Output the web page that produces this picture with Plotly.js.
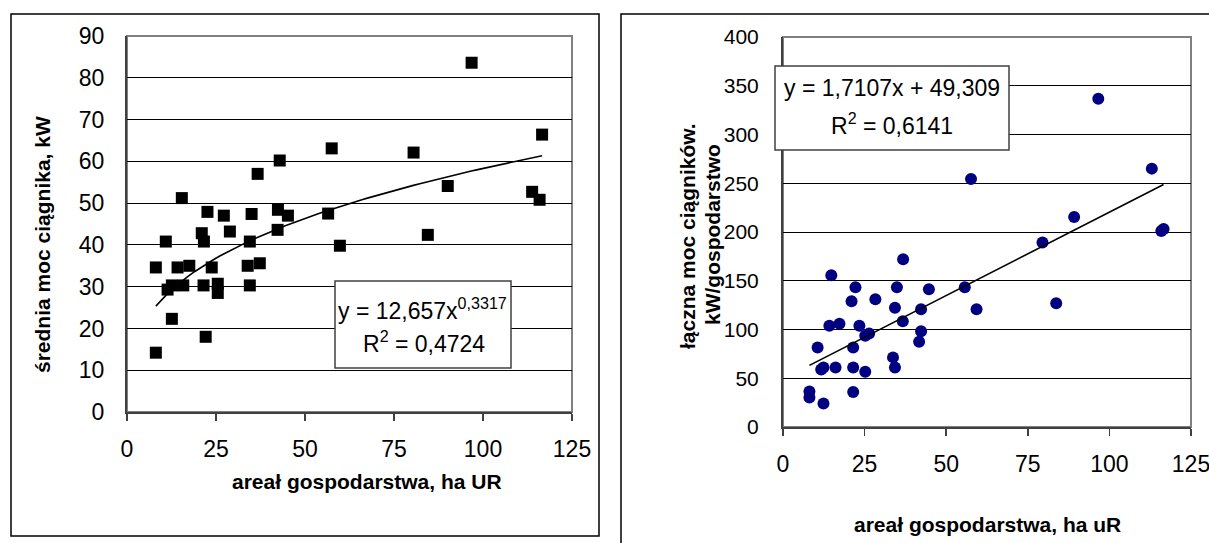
<!DOCTYPE html>
<html>
<head>
<meta charset="utf-8">
<script src="https://cdn.plot.ly/plotly-3.0.1.min.js"></script>
<style>
html,body{margin:0;padding:0;background:#fff;}
#chart{width:1209px;height:543px;}
</style>
</head>
<body>
<div id="chart"></div>
<script>
// ---- data ----
const xTicks = [0, 25, 50, 75, 100, 125];
const xTickLabels = ["0", "25", "50", "75", "100", "125"];

// left chart: farm area (ha UR) vs average tractor power (kW)
const areaLeft = [8.1, 8.1, 10.9, 11.4, 12.6, 12.6, 14.2, 15.4, 15.8, 17.5,
  21.0, 21.5, 21.6, 22.1, 22.6, 23.8, 25.5, 25.5, 27.2, 28.9,
  33.9, 34.5, 34.5, 35.0, 36.7, 37.3, 42.3, 42.4, 42.9, 45.2,
  56.5, 57.5, 59.8, 80.5, 84.5, 90.1, 96.8, 113.8, 115.9, 116.6];
const powerAvg = [14.2, 34.6, 40.8, 29.3, 30.3, 22.3, 34.6, 51.2, 30.3, 35.0,
  42.8, 30.3, 40.8, 18.0, 47.9, 34.6, 30.7, 28.5, 47.0, 43.2,
  35.0, 30.3, 40.8, 47.4, 57.0, 35.6, 43.6, 48.4, 60.2, 47.0,
  47.5, 63.1, 39.8, 62.1, 42.4, 54.1, 83.6, 52.7, 50.8, 66.4];

// right chart: farm area (ha uR) vs total tractor power per farm (kW)
const areaRight = [36.8, 14.8, 22.2, 34.9, 44.7, 55.7, 21.0, 28.3, 34.3, 42.3,
  59.3, 36.7, 14.2, 17.3, 23.4, 25.2, 26.4, 42.3, 41.7, 10.6,
  21.5, 33.7, 34.3, 12.4, 11.7, 16.1, 21.5, 25.2, 8.1, 8.1,
  21.5, 12.4, 96.6, 113.0, 89.2, 115.9, 116.6, 79.5, 57.6, 83.7];
const powerTotal = [172.1, 155.7, 143.3, 143.3, 141.3, 143.3, 128.9, 131.0, 122.4, 120.7,
  120.7, 108.4, 103.9, 105.9, 103.9, 93.6, 96.0, 98.1, 87.4, 81.6,
  81.6, 71.4, 61.1, 61.1, 59.0, 61.1, 61.1, 56.6, 36.4, 30.2,
  36.0, 24.1, 336.7, 265.0, 215.3, 201.0, 203.0, 189.2, 254.4, 126.9];

// trend line coefficients as printed in the chart
const powerCoefA = 12.657, powerCoefB = 0.3317;   // y = a * x^b
const linSlope = 1.7107, linIntercept = 49.309;    // y = m*x + c

// ---- helpers ----
const W = 1209, H = 543;
const px = p => p / W;
const py = p => 1 - p / H;

function trendX(xs, n) {
  const lo = Math.min(...xs), hi = Math.max(...xs);
  const out = [];
  for (let i = 0; i <= n; i++) out.push(lo + (hi - lo) * i / n);
  return out;
}
const tLx = trendX(areaLeft, 60);
const tLy = tLx.map(x => powerCoefA * Math.pow(x, powerCoefB));
const tRx = trendX(areaRight, 1);
const tRy = tRx.map(x => linSlope * x + linIntercept);

const FONT = "Liberation Sans, Arial, sans-serif";
const TICK = 23, EQ = 23, TITLE = 21;

const traces = [
  {x: areaLeft, y: powerAvg, type: 'scatter', mode: 'markers', xaxis: 'x', yaxis: 'y',
   marker: {symbol: 'square', size: 12, color: '#000000'}, hoverinfo: 'x+y'},
  {x: tLx, y: tLy, type: 'scatter', mode: 'lines', xaxis: 'x', yaxis: 'y',
   line: {color: '#000000', width: 1.6}, hoverinfo: 'skip'},
  {x: areaRight, y: powerTotal, type: 'scatter', mode: 'markers', xaxis: 'x2', yaxis: 'y2',
   marker: {symbol: 'circle', size: 12, color: '#000080'}, hoverinfo: 'x+y'},
  {x: tRx, y: tRy, type: 'scatter', mode: 'lines', xaxis: 'x2', yaxis: 'y2',
   line: {color: '#000000', width: 1.6}, hoverinfo: 'skip'}
];

const xAxisCommon = {
  range: [0, 125], tickvals: xTicks, ticktext: xTickLabels,
  ticks: 'outside', ticklen: 7, tickwidth: 1.5, tickcolor: '#404040',
  showline: true, linecolor: '#404040', linewidth: 2,
  showgrid: false, zeroline: false, fixedrange: true, ticklabeloverflow: 'allow',
  tickfont: {family: FONT, size: TICK, color: '#000'}, ticklabelstandoff: 8
};
const yAxisCommon = {
  ticks: '', showline: true, linecolor: '#404040', linewidth: 2,
  showgrid: true, gridcolor: '#000000', gridwidth: 1, zeroline: false, fixedrange: true,
  tickfont: {family: FONT, size: TICK, color: '#000'}, ticklabelstandoff: 16
};

function txt(x, y, text, size, extra) {
  return Object.assign({xref: 'paper', yref: 'paper', x: px(x), y: py(y), showarrow: false,
    text: text, font: {family: FONT, size: size, color: '#000'},
    xanchor: 'center', yanchor: 'middle'}, extra || {});
}
const boldFont = s => ({family: FONT, size: s, color: '#000', weight: 700});

const layout = {
  width: W, height: H,
  margin: {l: 0, r: 0, t: 0, b: 0},
  paper_bgcolor: '#ffffff', plot_bgcolor: '#ffffff',
  showlegend: false,
  xaxis: Object.assign({}, xAxisCommon, {domain: [px(127), px(572)], anchor: 'y'}),
  yaxis: Object.assign({}, yAxisCommon, {domain: [py(412), py(36)], anchor: 'x',
    range: [0, 90], dtick: 10, tick0: 0}),
  xaxis2: Object.assign({}, xAxisCommon, {domain: [px(783), px(1191)], anchor: 'y2'}),
  yaxis2: Object.assign({}, yAxisCommon, {domain: [py(427), py(37)], anchor: 'x2',
    range: [0, 400], dtick: 50, tick0: 0, ticklabelstandoff: 18,
    tickfont: {family: FONT, size: 21, color: '#000'}}),
  shapes: [
    {type: 'rect', xref: 'paper', yref: 'paper', x0: px(11), x1: px(599), y0: py(536), y1: py(14),
     line: {color: '#000000', width: 1.5}, layer: 'below'},
    {type: 'rect', xref: 'paper', yref: 'paper', x0: px(621), x1: px(1230), y0: py(560), y1: py(14),
     line: {color: '#000000', width: 1.5}, layer: 'below'},
    {type: 'rect', xref: 'x domain', yref: 'y domain', x0: 0, x1: 1, y0: 0, y1: 1,
     line: {color: '#808080', width: 2}, layer: 'below'},
    {type: 'rect', xref: 'x2 domain', yref: 'y2 domain', x0: 0, x1: 1, y0: 0, y1: 1,
     line: {color: '#808080', width: 2}, layer: 'below'},
    {type: 'rect', xref: 'paper', yref: 'paper', x0: px(335), x1: px(511), y0: py(368), y1: py(281),
     fillcolor: '#ffffff', line: {color: '#404040', width: 1.5}, layer: 'above'},
    {type: 'rect', xref: 'paper', yref: 'paper', x0: px(775), x1: px(1009), y0: py(150), y1: py(66),
     fillcolor: '#ffffff', line: {color: '#404040', width: 1.5}, layer: 'above'}
  ],
  annotations: [
    txt(422, 309, 'y = 12,657x<sup>0,3317</sup>', EQ),
    txt(424, 342, 'R<sup>2</sup> = 0,4724', EQ),
    txt(892, 88, 'y = 1,7107x + 49,309', EQ),
    txt(892, 124, 'R<sup>2</sup> = 0,6141', EQ),
    txt(367, 481, 'areał gospodarstwa, ha UR', TITLE, {font: boldFont(TITLE)}),
    txt(42, 245, 'średnia moc ciągnika, kW', TITLE, {textangle: -90, font: boldFont(TITLE)}),
    txt(987, 524, 'areał gospodarstwa, ha uR', TITLE, {font: boldFont(TITLE)}),
    txt(687, 236, 'łączna moc ciągników.', TITLE, {textangle: -90, font: boldFont(TITLE)}),
    txt(712, 235, 'kW/gospodarstwo', TITLE, {textangle: -90, font: boldFont(TITLE)})
  ]
};

Plotly.newPlot('chart', traces, layout, {staticPlot: true, displayModeBar: false});
</script>
</body>
</html>
